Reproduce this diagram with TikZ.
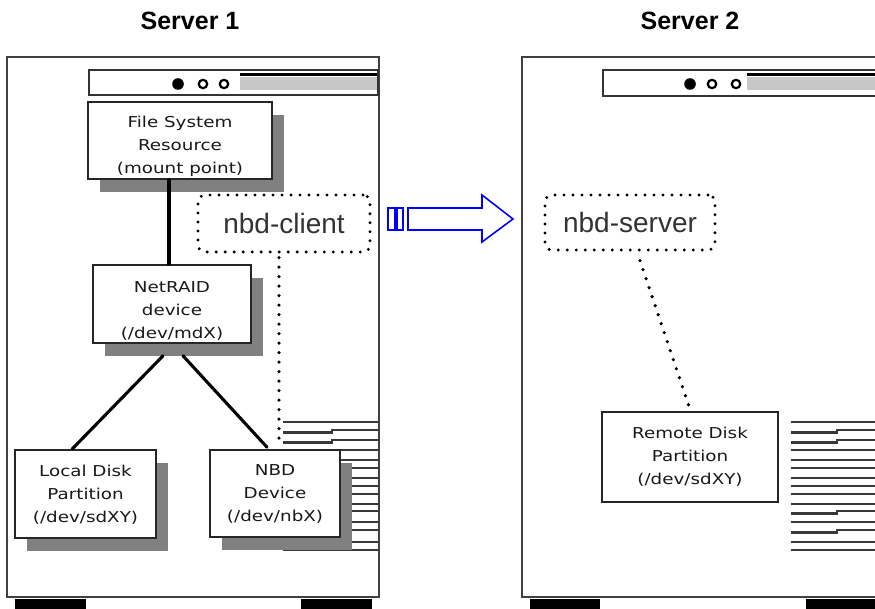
\documentclass[tikz,border=0pt]{standalone}
\usepackage{fontspec}
\setmainfont{Liberation Sans}
\newfontfamily\boxfont[FakeStretch=1.22]{DejaVu Sans}
\usetikzlibrary{shadows}
\begin{document}
\begin{tikzpicture}[x=1pt,y=-1pt,
  casebody/.style={draw=black!75, line width=2pt, fill=white},
  foot/.style={fill=black},
  bay/.style={draw=black!80, line width=1.6pt, fill=white},
  led/.style={draw=black, line width=2.2pt, fill=white},
  box/.style={draw=black!85, line width=1.6pt, fill=white, inner sep=0pt},
  shadowed/.style={drop shadow={shadow xshift=12pt, shadow yshift=-13pt, fill=black!50, opacity=1}},
  boxtext/.style={font=\boxfont\fontsize{15}{23}\selectfont, align=center, text=black!90, inner sep=0pt},
  dotbox/.style={draw=black, line width=3.3pt, dash pattern=on 0pt off 9pt, line cap=round, rounded corners=7pt, inner sep=0pt,
     font=\fontsize{28}{30}\selectfont, text=black!80},
  dotline/.style={line width=3.6pt, dash pattern=on 0pt off 9.5pt, line cap=round},
  link/.style={line width=3.1pt, line cap=round},
  stripe/.style={line width=2.2pt, draw=black!78},
  titletext/.style={font=\bfseries\fontsize{25}{30}\selectfont},
  bluearrow/.style={draw=blue, line width=1.6pt, fill=white}
]
\clip (0,0) rectangle (875,609);
\fill[white] (0,0) rectangle (875,609);

% titles
\node[titletext] (t1) at (190,21) {Server 1};
\node[titletext] (t2) at (690,21) {Server 2};

% cases
\draw[casebody] (7,57) rectangle (379,597);
\draw[casebody] (522,57) rectangle (894,597);
\fill[foot] (15,599) rectangle (86,609);
\fill[foot] (301,599) rectangle (372,609);
\fill[foot] (530,599) rectangle (600,609);
\fill[foot] (806,599) rectangle (880,609);

% bays
\draw[bay] (89,70) rectangle (378,95);
\fill[black!22] (240,77) rectangle (377,90);
\fill[black] (240,73.5) rectangle (377,76.5);
\fill[black] (178,84) circle (5.8);
\draw[led] (203,84) circle (4.2);
\draw[led] (224,84) circle (4.2);

\draw[bay] (603,70) rectangle (890,96);
\fill[black!22] (747,77) rectangle (880,90);
\fill[black] (747,73.5) rectangle (880,76.5);
\fill[black] (690,84) circle (5.8);
\draw[led] (712,84) circle (4.2);
\draw[led] (736,84) circle (4.2);

% stripes
\foreach \y in {422,450,460,468,478,486,494,504,522,542,550}{
  \draw[stripe] (283,\y) -- (379,\y);
  \draw[stripe] (791,\y) -- (894,\y);
}
\foreach \y in {431,441,512,531}{
  \draw[stripe] (283,\y+1.5) -- (332,\y+1.5) -- (332,\y-1) -- (379,\y-1);
  \draw[stripe] (791,\y+1.5) -- (837,\y+1.5) -- (837,\y-1) -- (894,\y-1);
}

% boxes server 1
\node[box, shadowed, minimum width=184pt, minimum height=77pt] (fsr) at (180,140.5) {};
\node[boxtext] (fsrt) at (180,146) {File System\\Resource\\(mount point)};
\node[box, shadowed, minimum width=158pt, minimum height=78pt] (netraid) at (172,304) {};
\node[boxtext] (netraidt) at (172,311) {NetRAID\\device\\(/dev/mdX)};
\node[box, shadowed, minimum width=141pt, minimum height=88pt] (local) at (85.5,494) {};
\node[boxtext] (localt) at (85.5,495) {Local Disk\\Partition\\(/dev/sdXY)};
\node[box, shadowed, minimum width=130pt, minimum height=87pt] (nbd) at (275,493.5) {};
\node[boxtext] (nbdt) at (275,494) {NBD\\Device\\(/dev/nbX)};

% box server 2
\node[box, minimum width=176pt, minimum height=90pt] (remote) at (690,457) {};
\node[boxtext] (remotet) at (690,457) {Remote Disk\\Partition\\(/dev/sdXY)};

% connectors
\draw[link] ([xshift=-11pt]fsr.south) -- ([xshift=-3pt]netraid.north);
\draw[link] ([xshift=-9pt,yshift=-12pt]netraid.south) -- ([xshift=-13.5pt]local.north);
\draw[link] ([xshift=11pt,yshift=-12pt]netraid.south) -- ([xshift=-8pt,yshift=2pt]nbd.north);

% dotted process boxes
\node[dotbox, minimum width=172pt, minimum height=57pt] (nbdclient) at (284,223.5) {nbd-client};
\node[dotbox, minimum width=170pt, minimum height=55pt] (nbdserver) at (630,222.5) {nbd-server};

\draw[dotline] ([xshift=-5pt,yshift=-4pt]nbdclient.south) -- ([xshift=4pt,yshift=7pt]nbd.north);
\draw[dotline] ([xshift=10pt,yshift=-9pt]nbdserver.south) -- ([yshift=2pt]remote.north);

% blue arrow
\draw[bluearrow] (388,208) rectangle (395,230);
\draw[bluearrow] (397,208) rectangle (403,230);
\draw[bluearrow] (408,208) -- (482,208) -- (482,195) -- (513,219) -- (482,242) -- (482,230) -- (408,230) -- cycle;
\end{tikzpicture}
\end{document}
